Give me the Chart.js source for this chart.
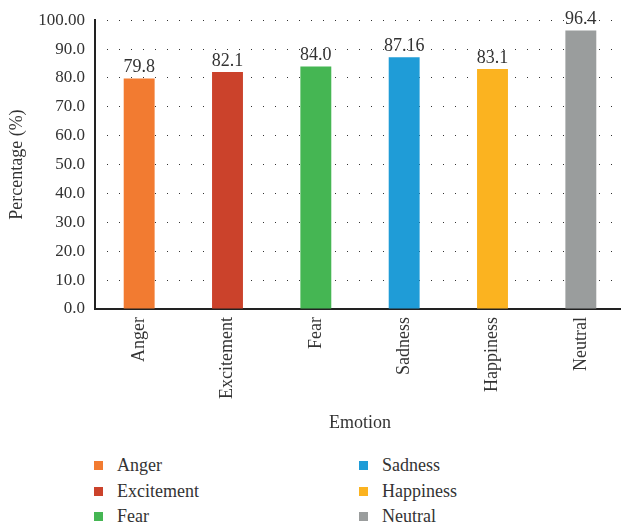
<!DOCTYPE html>
<html>
<head>
<meta charset="utf-8">
<script src="https://cdn.jsdelivr.net/npm/chart.js@4.4.1/dist/chart.umd.min.js"></script>
<style>
  html, body { margin: 0; padding: 0; background: #fff; overflow: hidden; }
  #wrap { position: relative; width: 621px; height: 527px; overflow: hidden; }
  #chartBox { position: absolute; left: 0; top: 0; width: 630px; height: 440px; }
  #legend { position: absolute; left: 0; top: 454px; width: 621px; height: 73px;
            font-family: "Liberation Serif", "DejaVu Serif", serif; font-size: 18px; color: #333; }
  .item { position: absolute; height: 22px; line-height: 22px; white-space: nowrap; }
  .item span.sw { position: absolute; left: 0; top: 7px; width: 9px; height: 9px; }
  .item span.tx { position: absolute; left: 23px; top: 0; }
</style>
</head>
<body>
<div id="wrap">
  <div id="chartBox"><canvas id="emotionChart" width="630" height="440"></canvas></div>
  <div id="legend"></div>
</div>
<script>
var emotions = ['Anger', 'Excitement', 'Fear', 'Sadness', 'Happiness', 'Neutral'];
var percentages = [79.8, 82.1, 84.0, 87.16, 83.1, 96.4];
var barColors = ['#F27B31', '#CB422B', '#45B653', '#1F9CD7', '#FBB320', '#9A9D9D'];
var yTicks = [0, 10, 20, 30, 40, 50, 60, 70, 80, 90, 100];

var serif = '"Liberation Serif", "DejaVu Serif", serif';
var textColor = '#333';

function formatValue(v) {
    // one decimal unless the value carries more
    return Math.round(v * 10) === v * 10 ? v.toFixed(1) : String(v);
}

// value printed above each bar
var barValueLabels = {
    id: 'barValueLabels',
    afterDatasetsDraw: function (chart) {
        var ctx = chart.ctx;
        var meta = chart.getDatasetMeta(0);
        ctx.save();
        ctx.font = '18px ' + serif;
        ctx.fillStyle = textColor;
        ctx.textAlign = 'center';
        ctx.textBaseline = 'bottom';
        meta.data.forEach(function (bar, i) {
            ctx.fillText(formatValue(percentages[i]), bar.x, bar.y - 2);
        });
        ctx.restore();
    }
};

var chart = new Chart(document.getElementById('emotionChart'), {
    type: 'bar',
    data: {
        labels: emotions,
        datasets: [{
            label: 'Percentage',
            data: percentages,
            backgroundColor: barColors,
            borderWidth: 0,
            barPercentage: 0.35,
            categoryPercentage: 1.0
        }]
    },
    options: {
        responsive: false,
        animation: false,
        layout: { padding: { top: 8, right: 5, left: 0, bottom: 0 } },
        plugins: {
            legend: { display: false },
            tooltip: { enabled: false }
        },
        scales: {
            x: {
                grid: { display: false, drawTicks: false },
                border: { display: true, color: '#222', width: 2 },
                ticks: {
                    minRotation: 90,
                    maxRotation: 90,
                    padding: 8,
                    color: textColor,
                    font: { family: serif, size: 18 }
                },
                title: {
                    display: true,
                    text: 'Emotion',
                    color: textColor,
                    font: { family: serif, size: 18 },
                    padding: { top: 4, bottom: 6 }
                },
                afterFit: function (scale) { scale.height = 131; }
            },
            y: {
                min: 0,
                max: 100,
                afterBuildTicks: function (scale) {
                    scale.ticks = yTicks.map(function (v) { return { value: v }; });
                },
                grid: {
                    color: '#333',
                    lineWidth: 1,
                    drawTicks: false
                },
                // in v4 the border dash applies to the gridlines; the axis line stays solid
                border: { display: true, color: '#222', width: 2, dash: [1, 11], dashOffset: -11 },
                ticks: {
                    padding: 10,
                    color: textColor,
                    font: { family: serif, size: 17 },
                    callback: function (v) { return v === 100 ? '100.00' : v.toFixed(1); }
                },
                title: {
                    display: true,
                    text: 'Percentage (%)',
                    color: textColor,
                    font: { family: serif, size: 18 },
                    padding: { top: 6, bottom: 4 }
                },
                afterFit: function (scale) { scale.width = 95; }
            }
        }
    },
    plugins: [barValueLabels]
});

// legend laid out in two columns, three rows each
var legend = document.getElementById('legend');
emotions.forEach(function (name, i) {
    var col = Math.floor(i / 3), row = i % 3;
    var item = document.createElement('div');
    item.className = 'item';
    item.style.left = (col === 0 ? 94 : 359) + 'px';
    item.style.top = (row * 25.5) + 'px';
    item.innerHTML = '<span class="sw" style="background:' + barColors[i] + '"></span><span class="tx">' + name + '</span>';
    legend.appendChild(item);
});
</script>
</body>
</html>
